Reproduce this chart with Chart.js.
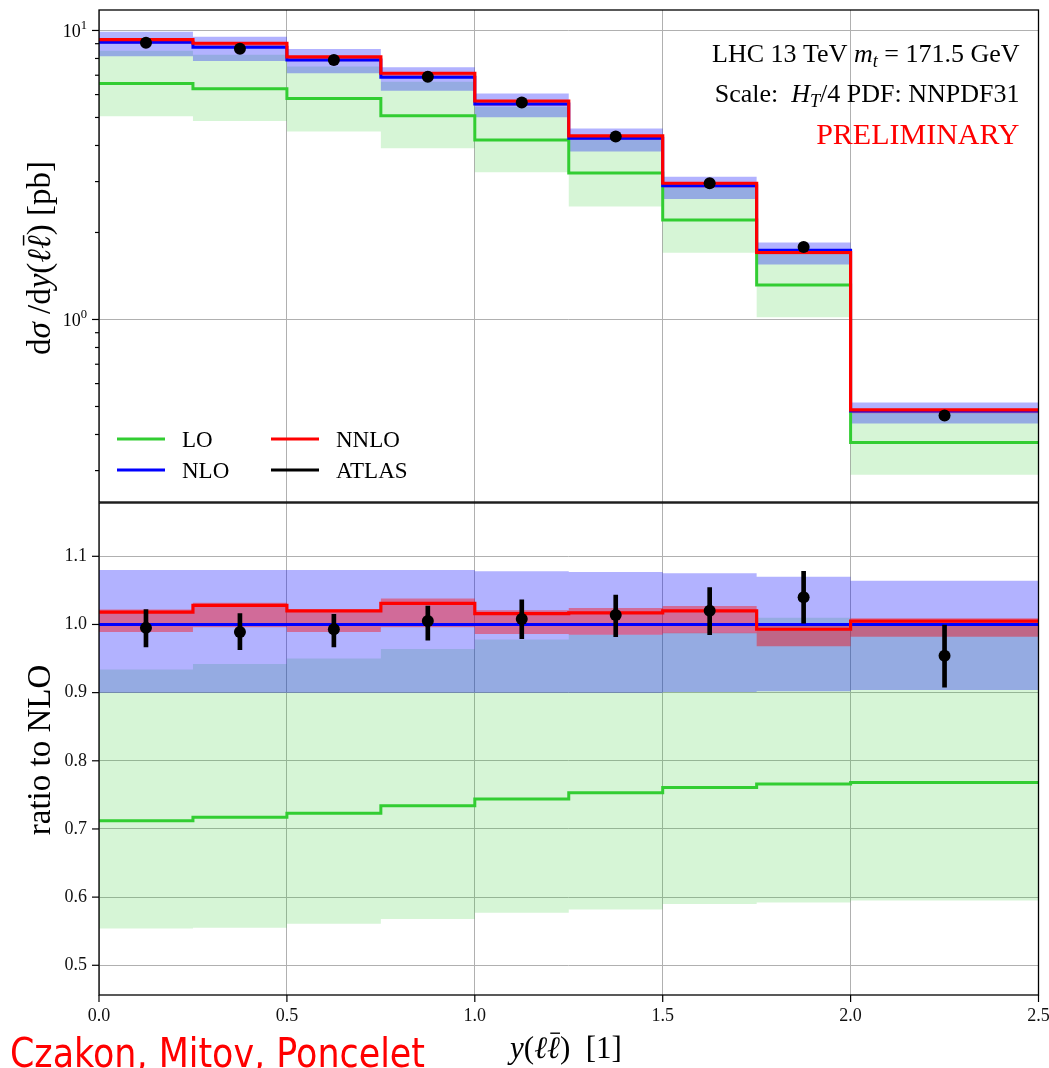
<!DOCTYPE html>
<html><head><meta charset="utf-8">
<script src="https://cdn.jsdelivr.net/npm/chart.js@4.4.1/dist/chart.umd.min.js"></script>
<style>
html,body{margin:0;padding:0;background:#fff;}
#wrap{position:relative;width:1049px;height:1068px;overflow:hidden;background:#fff;}
#cTop{position:absolute;left:0;top:0;width:1049px;height:520px;}
#cBot{position:absolute;left:0;top:495px;width:1049px;height:573px;}
</style></head><body>
<div id="wrap"><canvas id="cTop" width="1049" height="520"></canvas><canvas id="cBot" width="1049" height="573"></canvas></div>
<script>
// ---------------- data ----------------
const binEdges   = [0, 0.25, 0.5, 0.75, 1.0, 1.25, 1.5, 1.75, 2.0, 2.5];
const binCenters = [0.125, 0.375, 0.625, 0.875, 1.125, 1.375, 1.625, 1.875, 2.25];
const xTickValues = [0, 0.5, 1.0, 1.5, 2.0, 2.5];
const ratioTickValues = [0.5, 0.6, 0.7, 0.8, 0.9, 1.0, 1.1];
const topTickValues = [0.3, 0.4, 0.5, 0.6, 0.7, 0.8, 0.9, 1, 2, 3, 4, 5, 6, 7, 8, 9, 10];
const topMajorTicks = [1, 10];

// top panel: dσ/dy [pb]
const xsecLO     = [6.55, 6.29, 5.81, 5.07, 4.18, 3.21, 2.21, 1.316, 0.375];
const xsecLOLow  = [5.05, 4.86, 4.47, 3.91, 3.23, 2.46, 1.70, 1.018, 0.290];
const xsecLOHigh = [8.50, 8.24, 7.51, 6.64, 5.45, 4.18, 2.87, 1.750, 0.482];
const xsecNLO     = [9.10, 8.75, 7.91, 6.89, 5.57, 4.24, 2.90, 1.736, 0.482];
const xsecNLOLow  = [8.15, 7.84, 7.11, 6.19, 5.01, 3.81, 2.61, 1.550, 0.437];
const xsecNLOHigh = [9.90, 9.52, 8.62, 7.46, 6.05, 4.58, 3.12, 1.845, 0.516];
const xsecNNLO     = [9.30, 9.03, 8.10, 7.11, 5.70, 4.32, 2.96, 1.705, 0.487];
const xsecNNLOLow  = [9.00, 8.72, 7.82, 6.87, 5.49, 4.18, 2.86, 1.680, 0.474];
const xsecNNLOHigh = [9.32, 9.05, 8.12, 7.15, 5.71, 4.34, 2.98, 1.736, 0.490];
const xsecATLAS = [9.07, 8.65, 7.91, 6.92, 5.63, 4.30, 2.96, 1.78, 0.465];

// bottom panel: ratio to NLO
const ratioLO     = [0.712, 0.717, 0.723, 0.734, 0.744, 0.753, 0.761, 0.766, 0.768];
const ratioLOLow  = [0.554, 0.555, 0.561, 0.568, 0.577, 0.582, 0.590, 0.592, 0.595];
const ratioLOHigh = [0.934, 0.942, 0.950, 0.964, 0.978, 0.985, 0.988, 1.010, 1.000];
const ratioNLO     = [1, 1, 1, 1, 1, 1, 1, 1, 1];
const ratioNLOLow  = [0.900, 0.900, 0.900, 0.900, 0.900, 0.900, 0.901, 0.902, 0.904];
const ratioNLOHigh = [1.080, 1.080, 1.080, 1.080, 1.078, 1.077, 1.075, 1.070, 1.064];
const ratioNNLO     = [1.018, 1.028, 1.020, 1.031, 1.016, 1.017, 1.020, 0.993, 1.005];
const ratioNNLOLow  = [0.989, 0.996, 0.989, 0.996, 0.986, 0.985, 0.987, 0.968, 0.982];
const ratioNNLOHigh = [1.022, 1.032, 1.022, 1.038, 1.021, 1.024, 1.027, 1.000, 1.009];
const ratioATLAS     = [0.995, 0.989, 0.993, 1.005, 1.008, 1.014, 1.020, 1.040, 0.954];
const ratioATLASLow  = [0.967, 0.963, 0.967, 0.977, 0.979, 0.982, 0.985, 1.002, 0.908];
const ratioATLASHigh = [1.022, 1.016, 1.015, 1.027, 1.036, 1.043, 1.054, 1.078, 0.999];

// ---------------- styling ----------------
const C_LO = '#32cd32', C_NLO = '#0000ff', C_NNLO = '#ff0000', C_DATA = '#000000';
const B_LO = 'rgba(50,205,50,0.2)', B_NLO = 'rgba(0,0,255,0.3)', B_NNLO = 'rgba(255,0,0,0.4)';
const SERIF = '"Liberation Serif", "DejaVu Serif", serif';
const GRID = '#b0b0b0';

function stepData(vals){ return binEdges.map((x,i)=>({x:x, y:vals[Math.min(i, vals.length-1)]})); }
function pointData(vals){ return binCenters.map((x,i)=>({x:x, y:vals[i]})); }
function rangeData(lo,hi){ return binCenters.map((x,i)=>({x:x, y:[lo[i], hi[i]]})); }
function band(lo, hi, color, order){
  return [
    {type:'line', data:stepData(lo), stepped:true, borderWidth:0, borderColor:'rgba(0,0,0,0)', pointRadius:0, fill:false, order:order},
    {type:'line', data:stepData(hi), stepped:true, borderWidth:0, borderColor:'rgba(0,0,0,0)', pointRadius:0, fill:'-1', backgroundColor:color, order:order}
  ];
}
function stepLine(vals, color, width, order){
  return {type:'line', data:stepData(vals), stepped:true, borderColor:color, borderWidth:width, pointRadius:0, fill:false, order:order, borderCapStyle:'butt', borderJoinStyle:'miter'};
}
function points(vals, order){
  return {type:'line', data:pointData(vals), showLine:false, pointRadius:6, pointBackgroundColor:C_DATA, pointBorderColor:C_DATA, pointBorderWidth:0, fill:false, order:order};
}
function noPad(s){ s.paddingTop = 0; s.paddingBottom = 0; s.paddingLeft = 0; s.paddingRight = 0; }

function drawRich(ctx, segs, x, y, size, align, family){
  const fam = family || SERIF;
  const parts = segs.map(s=>{
    const fs = (s.sub||s.sup) ? size*0.7 : size;
    const font = (s.it?'italic ':'') + fs + 'px ' + fam;
    ctx.font = font;
    return Object.assign({}, s, {fs:fs, font:font, w:ctx.measureText(s.t).width});
  });
  const total = parts.reduce((a,p)=>a+p.w,0);
  let cx = align==='right' ? x-total : (align==='center' ? x-total/2 : x);
  ctx.textAlign='left'; ctx.textBaseline='alphabetic';
  for (const p of parts){
    ctx.font = p.font; ctx.fillStyle = p.color || '#000';
    const dy = p.sub ? size*0.22 : (p.sup ? -size*0.42 : 0);
    ctx.fillText(p.t, cx, y+dy);
    if (p.over){
      ctx.save(); ctx.strokeStyle = p.color||'#000'; ctx.lineWidth = Math.max(1, size*0.045);
      ctx.beginPath(); ctx.moveTo(cx+p.w*0.25, y-size*0.8); ctx.lineTo(cx+p.w*1.0, y-size*0.8); ctx.stroke(); ctx.restore();
    }
    cx += p.w;
  }
}

function frame(ctx, a){
  ctx.save(); ctx.strokeStyle='#000'; ctx.lineWidth=1.3;
  ctx.strokeRect(a.left, a.top, a.right-a.left, a.bottom-a.top); ctx.restore();
}

const common = {
  responsive:false, animation:false, events:[],
  plugins:{legend:{display:false}, tooltip:{enabled:false}}
};

// ---------------- top chart ----------------
const topPlugin = {
  id:'topDecor',
  afterDraw(chart){
    const ctx = chart.ctx, a = chart.chartArea, ys = chart.scales.y;
    frame(ctx, a);
    ctx.save(); ctx.strokeStyle='#000'; ctx.lineWidth=1.2;
    for (const v of topTickValues){
      const py = ys.getPixelForValue(v);
      if (py < a.top-0.5 || py > a.bottom+0.5) continue;
      const len = topMajorTicks.includes(v) ? 7 : 4;
      ctx.beginPath(); ctx.moveTo(a.left-len, py); ctx.lineTo(a.left, py); ctx.stroke();
    }
    ctx.restore();
    for (const v of topMajorTicks){
      const py = ys.getPixelForValue(v);
      drawRich(ctx, [{t:'10'},{t: String(Math.round(Math.log10(v))), sup:true}], 87, py+6.5, 18, 'right');
    }
    // y title
    ctx.save(); ctx.translate(50, 258); ctx.rotate(-Math.PI/2);
    drawRich(ctx, [{t:'d'},{t:'σ',it:true},{t:' /d'},{t:'y',it:true},{t:'('},{t:'ℓ',it:true},{t:'ℓ',it:true,over:true},{t:')'},{t:' [pb]'}], 0, 0, 33, 'center');
    ctx.restore();
    // annotation
    drawRich(ctx, [{t:'LHC 13 TeV '},{t:'m',it:true},{t:'t',it:true,sub:true},{t:' = 171.5 GeV'}], 1019.5, 61.7, 26, 'right');
    drawRich(ctx, [{t:'Scale:  '},{t:'H',it:true},{t:'T',it:true,sub:true},{t:'/4 PDF: NNPDF31'}], 1019.5, 101.7, 26, 'right');
    drawRich(ctx, [{t:'PRELIMINARY', color:'#ff0000'}], 1019.5, 144.3, 30, 'right');
    // legend
    const leg = [
      {label:'LO', color:C_LO, x:117, y:439},
      {label:'NNLO', color:C_NNLO, x:271, y:439},
      {label:'NLO', color:C_NLO, x:117, y:470},
      {label:'ATLAS', color:C_DATA, x:271, y:470}
    ];
    for (const e of leg){
      ctx.save(); ctx.strokeStyle=e.color; ctx.lineWidth=3;
      ctx.beginPath(); ctx.moveTo(e.x, e.y); ctx.lineTo(e.x+48, e.y); ctx.stroke(); ctx.restore();
      drawRich(ctx, [{t:e.label}], e.x+65, e.y+8, 23, 'left');
    }
  }
};

new Chart(document.getElementById('cTop'), {
  type:'line',
  data:{datasets:[
    ...band(xsecLOLow, xsecLOHigh, B_LO, 10),
    ...band(xsecNLOLow, xsecNLOHigh, B_NLO, 9),
    ...band(xsecNNLOLow, xsecNNLOHigh, B_NNLO, 8),
    stepLine(xsecLO, C_LO, 3, 5),
    stepLine(xsecNLO, C_NLO, 3, 4),
    stepLine(xsecNNLO, C_NNLO, 3.2, 3),
    points(xsecATLAS, 1)
  ]},
  options:Object.assign({}, common, {
    layout:{padding:{left:0, right:10.5, top:10, bottom:18}},
    scales:{
      x:{type:'linear', min:0, max:2.5, offset:false,
         afterBuildTicks:s=>{ s.ticks = xTickValues.map(v=>({value:v})); },
         afterFit:s=>{ s.height = 0; noPad(s); },
         ticks:{display:false}, border:{display:false},
         grid:{color:GRID, lineWidth:1, drawTicks:false, offset:false}},
      y:{type:'logarithmic', min:0.2336, max:11.77,
         afterBuildTicks:s=>{ s.ticks = topTickValues.map(v=>({value:v, major: topMajorTicks.includes(v)})); },
         afterFit:s=>{ s.width = 99; noPad(s); },
         ticks:{display:false}, border:{display:false},
         grid:{drawTicks:false, lineWidth:1,
               color:c=> (c.tick && topMajorTicks.includes(c.tick.value)) ? GRID : 'rgba(0,0,0,0)'}}
    }
  }),
  plugins:[topPlugin]
});

// ---------------- bottom chart ----------------
const botPlugin = {
  id:'botDecor',
  afterDraw(chart){
    const ctx = chart.ctx, a = chart.chartArea, ys = chart.scales.y, xs = chart.scales.x;
    frame(ctx, a);
    ctx.save(); ctx.strokeStyle='#000'; ctx.lineWidth=1.2;
    for (const v of ratioTickValues){
      const py = ys.getPixelForValue(v);
      ctx.beginPath(); ctx.moveTo(a.left-7, py); ctx.lineTo(a.left, py); ctx.stroke();
    }
    for (const v of xTickValues){
      const px = xs.getPixelForValue(v);
      ctx.beginPath(); ctx.moveTo(px, a.bottom); ctx.lineTo(px, a.bottom+7); ctx.stroke();
    }
    ctx.restore();
    // y title
    ctx.save(); ctx.translate(50, 750-495); ctx.rotate(-Math.PI/2);
    drawRich(ctx, [{t:'ratio to NLO'}], 0, 0, 33, 'center');
    ctx.restore();
    // x title
    drawRich(ctx, [{t:'y',it:true},{t:'('},{t:'ℓ',it:true},{t:'ℓ',it:true,over:true},{t:')  [1]'}], 566, 1058-495, 31, 'center');
    // author credit
    ctx.save();
    ctx.font = '40px "DejaVu Sans", "Liberation Sans", sans-serif';
    const txt = 'Czakon, Mitov, Poncelet';
    const w = ctx.measureText(txt).width;
    ctx.translate(10, 1067-495); ctx.scale(415/w, 1);
    ctx.fillStyle = '#ff0000'; ctx.textAlign='left'; ctx.textBaseline='alphabetic';
    ctx.fillText(txt, 0, 0);
    ctx.restore();
  }
};

new Chart(document.getElementById('cBot'), {
  type:'line',
  data:{datasets:[
    ...band(ratioLOLow, ratioLOHigh, B_LO, 10),
    ...band(ratioNLOLow, ratioNLOHigh, B_NLO, 9),
    ...band(ratioNNLOLow, ratioNNLOHigh, B_NNLO, 8),
    stepLine(ratioLO, C_LO, 3, 5),
    stepLine(ratioNLO, C_NLO, 3, 4),
    stepLine(ratioNNLO, C_NNLO, 3.2, 3),
    {type:'bar', data:rangeData(ratioATLASLow, ratioATLASHigh), backgroundColor:C_DATA, borderWidth:0, barThickness:4, grouped:false, order:2},
    points(ratioATLAS, 1)
  ]},
  options:Object.assign({}, common, {
    layout:{padding:{left:0, right:10.5, top:8, bottom:0}},
    scales:{
      x:{type:'linear', min:0, max:2.5, offset:false,
         afterBuildTicks:s=>{ s.ticks = xTickValues.map(v=>({value:v})); },
         afterFit:s=>{ s.height = 73; noPad(s); },
         ticks:{padding:10, maxRotation:0, autoSkip:false, color:'#111',
                font:{family:SERIF, size:18}, callback:v=>Number(v).toFixed(1)},
         border:{display:false},
         grid:{color:GRID, lineWidth:1, drawTicks:false, offset:false}},
      y:{type:'linear', min:0.4564, max:1.1782,
         afterBuildTicks:s=>{ s.ticks = ratioTickValues.map(v=>({value:v})); },
         afterFit:s=>{ s.width = 99; noPad(s); },
         ticks:{padding:12, color:'#111', font:{family:SERIF, size:18}, callback:v=>Number(v).toFixed(1)},
         border:{display:false},
         grid:{color:GRID, lineWidth:1, drawTicks:false}}
    }
  }),
  plugins:[botPlugin]
});
</script>
</body></html>
